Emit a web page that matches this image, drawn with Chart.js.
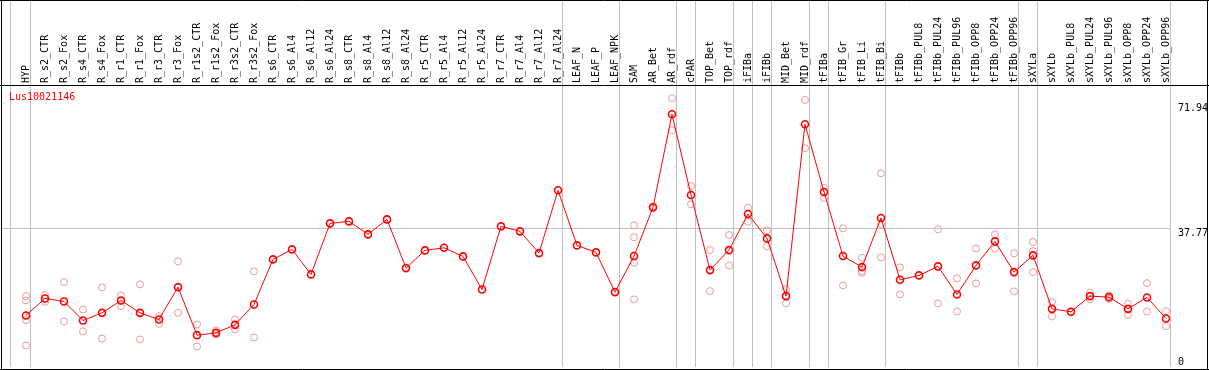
<!DOCTYPE html>
<html>
<head>
<meta charset="utf-8">
<script src="https://cdn.jsdelivr.net/npm/chart.js@4"></script>
<style>
  html, body { margin: 0; padding: 0; background: #fff; }
  #wrap { width: 1209px; height: 370px; }
</style>
</head>
<body>
<div id="wrap"><canvas id="expr" width="1209" height="370"></canvas></div>
<script>
const geneName = 'Lus10021146';

const categories = [
    'HYP', 'R_s2_CTR', 'R_s2_Fox', 'R_s4_CTR', 'R_s4_Fox', 'R_r1_CTR', 'R_r1_Fox', 'R_r3_CTR', 'R_r3_Fox',
    'R_r1s2_CTR', 'R_r1s2_Fox', 'R_r3s2_CTR', 'R_r3s2_Fox', 'R_s6_CTR', 'R_s6_Al4', 'R_s6_Al12', 'R_s6_Al24',
    'R_s8_CTR', 'R_s8_Al4', 'R_s8_Al12', 'R_s8_Al24', 'R_r5_CTR', 'R_r5_Al4', 'R_r5_Al12', 'R_r5_Al24',
    'R_r7_CTR', 'R_r7_Al4', 'R_r7_Al12', 'R_r7_Al24', 'LEAF_N', 'LEAF_P', 'LEAF_NPK', 'SAM', 'AR_Bet', 'AR_rdf',
    'cPAR', 'TOP_Bet', 'TOP_rdf', 'iFIBa', 'iFIBb', 'MID_Bet', 'MID_rdf', 'tFIBa', 'tFIB_Gr', 'tFIB_Li', 'tFIB_Bi',
    'tFIBb', 'tFIBb_PUL8', 'tFIBb_PUL24', 'tFIBb_PUL96', 'tFIBb_OPP8', 'tFIBb_OPP24', 'tFIBb_OPP96',
    'sXYLa', 'sXYLb', 'sXYLb_PUL8', 'sXYLb_PUL24', 'sXYLb_PUL96', 'sXYLb_OPP8', 'sXYLb_OPP24', 'sXYLb_OPP96'
];

// mean expression per sample (red line)
const means = [
    14.04, 18.68, 17.86, 12.68, 14.75, 18.13, 14.75, 12.95, 21.76,
    8.67, 9.30, 11.48, 17.04, 29.32, 32.04, 25.22, 39.13,
    39.68, 36.13, 40.22, 26.94, 31.77, 32.48, 30.13, 21.13,
    38.31, 36.95, 31.03, 48.13, 33.13, 31.22, 20.40, 30.22, 43.50, 68.86,
    46.85, 26.40, 31.85, 41.67, 35.04, 19.31, 66.13, 47.67, 30.22, 27.22, 40.58,
    23.75, 24.95, 27.41, 19.77, 27.68, 34.22, 25.85,
    30.41, 15.84, 15.03, 19.31, 19.03, 15.84, 18.95, 13.23
];

// individual replicates (pale circles)
const replicates = [
    [19.31, 18.13, 12.76, 5.86], [19.58, 17.75], [23.13, 12.41], [15.68, 9.68], [21.68, 7.77],
    [19.50, 16.58], [22.50, 7.50], [13.85, 11.75], [28.77, 14.75],
    [11.59, 5.59], [9.95, 8.86], [12.95, 10.23], [26.04, 8.04], [], [], [], [],
    [], [], [], [], [], [], [], [],
    [], [], [], [], [], [], [], [38.59, 35.32, 28.39, 18.41], [43.71, 43.25], [73.22, 64.49],
    [49.30, 44.31], [31.85, 20.67], [35.94, 27.68], [43.39, 39.57], [37.22, 32.86], [21.22, 17.32],
    [72.76, 59.59], [48.84, 46.03], [37.77, 22.23], [29.75, 26.12, 25.66], [52.77, 38.94, 29.86],
    [27.13, 19.77], [], [37.50, 17.32], [24.13, 15.13], [32.32, 22.77], [36.13, 32.21], [30.95, 20.59],
    [34.03, 31.58, 25.85], [17.67, 13.77], [], [20.21, 18.41], [19.50, 18.57], [17.21, 14.21],
    [22.85, 15.13], [15.22, 11.13]
];

// sample indexes where a group separator is drawn
const groupBreaks = [0, 1, 29, 32, 35, 36, 38, 39, 40, 42, 43, 46, 53, 54, 61];

const yTickValues = [0, 37.77, 71.94];
const yTickLabels = ['0', '37.77', '71.94'];

const monoFont = { family: "'DejaVu Sans Mono', monospace", size: 10 };
const xMin = -24 / 19;
const xMax = 1144 / 19;
const breakShift = 15 / 19;
const yMax = 76.55;

const meanPoints = means.map((v, i) => ({ x: i, y: v }));
const repPoints = [];
replicates.forEach((list, i) => {
    list.forEach(v => repPoints.push({ x: i, y: v }));
});

function noPadding(s) {
    s.paddingLeft = 0;
    s.paddingRight = 0;
    s.paddingTop = 0;
    s.paddingBottom = 0;
}

const framePlugin = {
    id: 'frame',
    afterDraw(chart) {
        const c = chart.ctx;
        c.save();
        c.strokeStyle = '#000';
        c.lineWidth = 1;
        c.beginPath();
        c.moveTo(1.5, 0); c.lineTo(1.5, 370);
        c.moveTo(1207.5, 0); c.lineTo(1207.5, 370);
        c.moveTo(0, 0.5); c.lineTo(1209, 0.5);
        c.moveTo(0, 369.5); c.lineTo(1209, 369.5);
        c.moveTo(0, 85.5); c.lineTo(1209, 85.5);
        c.stroke();
        c.fillStyle = '#ff0000';
        c.font = "10px 'DejaVu Sans Mono', monospace";
        c.textBaseline = 'middle';
        c.fillText(geneName, 9, 97);
        c.restore();
    }
};

new Chart(document.getElementById('expr'), {
    type: 'line',
    data: {
        datasets: [
            {
                label: 'mean',
                data: meanPoints,
                xAxisID: 'x',
                borderColor: '#ff0000',
                borderWidth: 1,
                pointStyle: 'circle',
                pointRadius: 3.5,
                pointBorderWidth: 1.6,
                pointBorderColor: '#ff0000',
                pointBackgroundColor: 'rgba(0,0,0,0)',
                tension: 0
            },
            {
                label: 'replicates',
                data: repPoints,
                xAxisID: 'x',
                showLine: false,
                pointStyle: 'circle',
                pointRadius: 3.5,
                pointBorderWidth: 1,
                pointBorderColor: '#ee9999',
                pointBackgroundColor: 'rgba(0,0,0,0)'
            }
        ]
    },
    options: {
        responsive: false,
        animation: false,
        devicePixelRatio: 1,
        layout: { autoPadding: false, padding: { left: 2, right: 0, top: 0, bottom: 3 } },
        plugins: { legend: { display: false }, tooltip: { enabled: false } },
        scales: {
            x: {
                type: 'linear',
                position: 'top',
                weight: 1,
                min: xMin,
                max: xMax,
                afterBuildTicks: s => { s.ticks = categories.map((c, i) => ({ value: i })); },
                afterFit: s => { s.height = 86; noPadding(s); },
                grid: { display: false, drawTicks: false },
                border: { display: false },
                ticks: {
                    autoSkip: false,
                    minRotation: 90,
                    maxRotation: 90,
                    padding: 3,
                    labelOffset: 12,
                    color: '#000',
                    font: monoFont,
                    callback: (v, i) => categories[i]
                }
            },
            xb: {
                type: 'linear',
                position: 'top',
                weight: 0,
                min: xMin,
                max: xMax,
                afterBuildTicks: s => { s.ticks = groupBreaks.map(b => ({ value: b - breakShift })); },
                afterFit: s => { s.height = 0; noPadding(s); },
                grid: { color: '#c0c0c0', lineWidth: 1, drawTicks: true, tickLength: 86 },
                border: { display: false },
                ticks: { display: false }
            },
            y: {
                position: 'right',
                min: 0,
                max: yMax,
                // the bottom label is kept inside the frame, as in the original plot
                afterBuildTicks: s => { s.ticks = yTickValues.map(v => ({ value: Math.max(v, 2.7) })); },
                afterFit: s => { s.width = 39; noPadding(s); },
                grid: {
                    drawTicks: false,
                    color: c => (c.tick && c.tick.value === 37.77) ? '#c0c0c0' : 'rgba(0,0,0,0)'
                },
                border: { display: false },
                ticks: {
                    padding: 8,
                    labelOffset: 5,
                    color: '#000',
                    font: monoFont,
                    callback: (v, i) => yTickLabels[i]
                }
            }
        }
    },
    plugins: [framePlugin]
});
</script>
</body>
</html>
